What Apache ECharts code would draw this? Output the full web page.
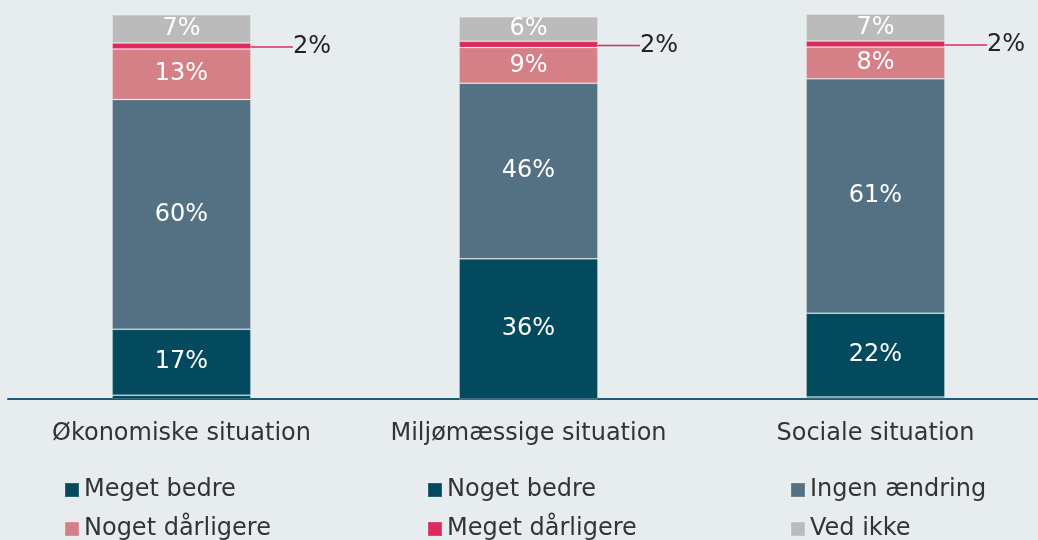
<!DOCTYPE html>
<html>
<head>
<meta charset="utf-8">
<script src="https://cdn.jsdelivr.net/npm/echarts@6/dist/echarts.min.js"></script>
<style>
html,body{margin:0;padding:0;background:#e7edee;overflow:hidden;width:1038px;height:540px;}
#chart{width:1049px;height:540px;}
</style>
</head>
<body>
<div id="chart"></div>
<script>
const categories = ['Økonomiske situation', 'Miljømæssige situation', 'Sociale situation'];
const megetBedre = [1.0, 0, 0.5];
const nogetBedre = [17.1, 36.4, 21.8];
const ingenAendring = [59.7, 45.6, 60.9];
const nogetDaarligere = [13.1, 9.3, 8.2];
const megetDaarligere = [1.6, 1.6, 1.6];
const vedIkke = [7.3, 6.4, 7.0];

const seriesNames = ['Meget bedre', 'Noget bedre', 'Ingen ændring', 'Noget dårligere', 'Meget dårligere', 'Ved ikke'];
const seriesData = [megetBedre, nogetBedre, ingenAendring, nogetDaarligere, megetDaarligere, vedIkke];
const colors = ['#034a5f', '#034a5f', '#537182', '#d57f86', '#dc2a5c', '#bbbbbb'];

const FONT = '"DejaVu Sans", Verdana, sans-serif';
const FS = 24;

const chart = echarts.init(document.getElementById('chart'));

const series = seriesNames.map((name, i) => {
  const s = {
    name: name,
    type: 'bar',
    stack: 'total',
    barWidth: '40%',
    data: seriesData[i],
    itemStyle: { color: colors[i], borderColor: 'rgba(255,255,255,0.14)', borderWidth: 1 },
    label: {
      show: i !== 0,
      position: 'inside',
      color: '#ffffff',
      fontFamily: FONT,
      fontSize: FS,
      formatter: p => Math.round(p.value) + '%'
    }
  };
  if (name === 'Meget dårligere') {
    s.label = {
      show: true,
      position: 'right',
      distance: 8,
      padding: [0, 0, 0, 8],
      color: '#222222',
      fontFamily: FONT,
      fontSize: FS,
      formatter: p => Math.round(p.value) + '%'
    };
    s.labelLayout = { dx: 26, dy: 1 };
    s.labelLine = { show: true, lineStyle: { color: '#dc2a5c', width: 1.5 } };
  }
  return s;
});

// legend positions: [left, top] per item (column / row layout)
const legendPos = {
  'Meget bedre': [64, 477],
  'Noget bedre': [427, 477],
  'Ingen ændring': [790, 477],
  'Noget dårligere': [64, 516],
  'Meget dårligere': [427, 516],
  'Ved ikke': [790, 516]
};

const legends = seriesNames.map(n => ({
  left: legendPos[n][0],
  top: legendPos[n][1],
  data: [n],
  itemWidth: 14,
  itemHeight: 14,
  itemGap: 6,
  icon: 'rect',
  selectedMode: false,
  padding: 0,
  textStyle: { fontFamily: FONT, fontSize: FS, color: '#333333', lineHeight: 26, padding: [0, 0, 0, 0] }
}));

chart.setOption({
  backgroundColor: '#e7edee',
  animation: false,
  color: colors,
  grid: { left: 8, top: 14, right: 0, bottom: 141, containLabel: false },
  xAxis: {
    type: 'category',
    data: categories,
    axisLine: { show: true, lineStyle: { color: '#1d5a72', width: 2 } },
    axisTick: { show: false },
    axisLabel: { color: '#333333', fontFamily: FONT, fontSize: FS, margin: 23, interval: 0 }
  },
  yAxis: {
    type: 'value',
    min: 0,
    max: 100,
    show: false,
    splitLine: { show: false }
  },
  legend: legends,
  series: series
});
</script>
</body>
</html>
